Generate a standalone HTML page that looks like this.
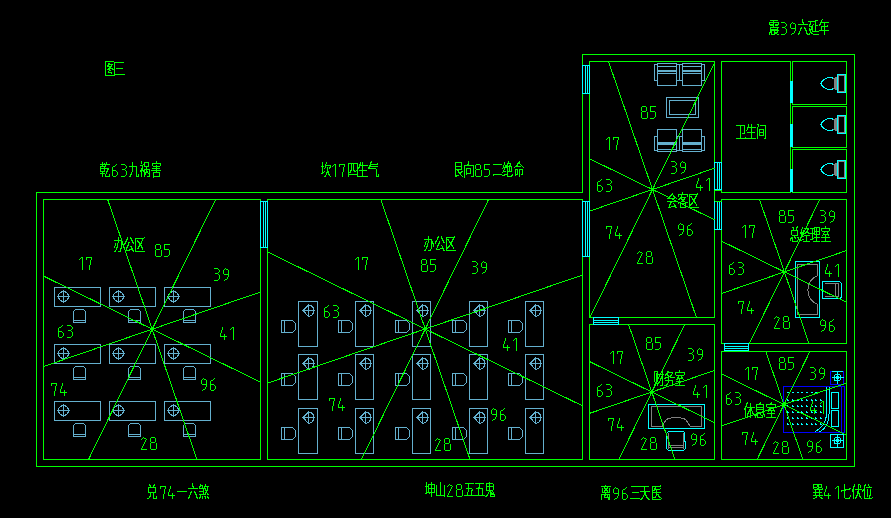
<!DOCTYPE html>
<html><head><meta charset="utf-8"><style>
html,body{margin:0;padding:0;background:#000;width:891px;height:518px;overflow:hidden;font-family:"Liberation Sans",sans-serif;}
svg{display:block;}
</style></head><body>
<svg width="891" height="518" viewBox="0 0 891 518">
<rect width="891" height="518" fill="#000"/>
<g shape-rendering="crispEdges" fill="none" stroke-width="1"><path d="M36.5 192.5 L582.5 192.5 L582.5 54.5 L854.5 54.5 L854.5 466.5 L36.5 466.5Z" stroke="#00ff00"/><rect x="43.5" y="199.5" width="217" height="260" stroke="#00ff00" fill="none"/><rect x="267.5" y="199.5" width="315" height="260" stroke="#00ff00" fill="none"/><rect x="589.5" y="61.5" width="125" height="256" stroke="#00ff00" fill="none"/><rect x="589.5" y="324.5" width="125" height="135" stroke="#00ff00" fill="none"/><rect x="721.5" y="61.5" width="69" height="131" stroke="#00ff00" fill="none"/><rect x="721.5" y="199.5" width="125" height="144" stroke="#00ff00" fill="none"/><rect x="721.5" y="351.5" width="125" height="108" stroke="#00ff00" fill="none"/><rect x="792.5" y="61.5" width="54" height="43" stroke="#00ff00" fill="none"/><rect x="792.5" y="106.5" width="54" height="41" stroke="#00ff00" fill="none"/><rect x="792.5" y="149.5" width="54" height="43" stroke="#00ff00" fill="none"/><rect x="260.5" y="201.5" width="7" height="46" stroke="#00ffff" fill="#000"/><path d="M263.5 201.5V247.5M265.5 201.5V247.5" stroke="#00ffff"/><rect x="582.5" y="65.5" width="7" height="28" stroke="#00ffff" fill="#000"/><path d="M585.5 65.5V93.5M587.5 65.5V93.5" stroke="#00ffff"/><rect x="582.5" y="201.5" width="7" height="55" stroke="#00ffff" fill="#000"/><path d="M585.5 201.5V256.5M587.5 201.5V256.5" stroke="#00ffff"/><rect x="714.5" y="162.5" width="7" height="27" stroke="#00ffff" fill="#000"/><path d="M717.5 162.5V189.5M719.5 162.5V189.5" stroke="#00ffff"/><rect x="714.5" y="201.5" width="7" height="28" stroke="#00ffff" fill="#000"/><path d="M717.5 201.5V229.5M719.5 201.5V229.5" stroke="#00ffff"/><rect x="593.5" y="317.5" width="25" height="7" stroke="#00ffff" fill="#000"/><path d="M593.5 320.5H618.5M593.5 322.5H618.5" stroke="#00ffff"/><rect x="724.5" y="343.5" width="24" height="7" stroke="#00ffff" fill="#000"/><path d="M724.5 346.5H748.5M724.5 348.5H748.5" stroke="#00ffff"/><path d="M714.5 190.5L721.5 190.5" stroke="#00ff00"/><path d="M714.5 201.5L721.5 201.5" stroke="#00ff00"/><rect x="790" y="81" width="3" height="22" fill="#00ffff" stroke="none"/><rect x="790" y="124" width="3" height="23" fill="#00ffff" stroke="none"/><rect x="790" y="169" width="3" height="23" fill="#00ffff" stroke="none"/><rect x="54.5" y="287.5" width="46" height="19" stroke="#64b0ce" fill="none"/><circle cx="63.5" cy="296.5" r="5" stroke="#64b0ce"/><path d="M57.0 296.5H70.0M63.5 290.0V303.0" stroke="#64b0ce"/><path d="M73.5 320.5V311.5L75.5 309.5H83.5L85.5 311.5V320.5" stroke="#64b0ce"/><rect x="73.5" y="320.5" width="12" height="2" rx="1" stroke="#64b0ce"/><rect x="109.5" y="287.5" width="46" height="19" stroke="#64b0ce" fill="none"/><circle cx="118.5" cy="296.5" r="5" stroke="#64b0ce"/><path d="M112.0 296.5H125.0M118.5 290.0V303.0" stroke="#64b0ce"/><path d="M128.5 320.5V311.5L130.5 309.5H138.5L140.5 311.5V320.5" stroke="#64b0ce"/><rect x="128.5" y="320.5" width="12" height="2" rx="1" stroke="#64b0ce"/><rect x="164.5" y="287.5" width="46" height="19" stroke="#64b0ce" fill="none"/><circle cx="173.5" cy="296.5" r="5" stroke="#64b0ce"/><path d="M167.0 296.5H180.0M173.5 290.0V303.0" stroke="#64b0ce"/><path d="M183.5 320.5V311.5L185.5 309.5H193.5L195.5 311.5V320.5" stroke="#64b0ce"/><rect x="183.5" y="320.5" width="12" height="2" rx="1" stroke="#64b0ce"/><rect x="54.5" y="344.5" width="46" height="19" stroke="#64b0ce" fill="none"/><circle cx="63.5" cy="353.5" r="5" stroke="#64b0ce"/><path d="M57.0 353.5H70.0M63.5 347.0V360.0" stroke="#64b0ce"/><path d="M73.5 377.5V368.5L75.5 366.5H83.5L85.5 368.5V377.5" stroke="#64b0ce"/><rect x="73.5" y="377.5" width="12" height="2" rx="1" stroke="#64b0ce"/><rect x="109.5" y="344.5" width="46" height="19" stroke="#64b0ce" fill="none"/><circle cx="118.5" cy="353.5" r="5" stroke="#64b0ce"/><path d="M112.0 353.5H125.0M118.5 347.0V360.0" stroke="#64b0ce"/><path d="M128.5 377.5V368.5L130.5 366.5H138.5L140.5 368.5V377.5" stroke="#64b0ce"/><rect x="128.5" y="377.5" width="12" height="2" rx="1" stroke="#64b0ce"/><rect x="164.5" y="344.5" width="46" height="19" stroke="#64b0ce" fill="none"/><circle cx="173.5" cy="353.5" r="5" stroke="#64b0ce"/><path d="M167.0 353.5H180.0M173.5 347.0V360.0" stroke="#64b0ce"/><path d="M183.5 377.5V368.5L185.5 366.5H193.5L195.5 368.5V377.5" stroke="#64b0ce"/><rect x="183.5" y="377.5" width="12" height="2" rx="1" stroke="#64b0ce"/><rect x="54.5" y="401.5" width="46" height="19" stroke="#64b0ce" fill="none"/><circle cx="63.5" cy="410.5" r="5" stroke="#64b0ce"/><path d="M57.0 410.5H70.0M63.5 404.0V417.0" stroke="#64b0ce"/><path d="M73.5 434.5V425.5L75.5 423.5H83.5L85.5 425.5V434.5" stroke="#64b0ce"/><rect x="73.5" y="434.5" width="12" height="2" rx="1" stroke="#64b0ce"/><rect x="109.5" y="401.5" width="46" height="19" stroke="#64b0ce" fill="none"/><circle cx="118.5" cy="410.5" r="5" stroke="#64b0ce"/><path d="M112.0 410.5H125.0M118.5 404.0V417.0" stroke="#64b0ce"/><path d="M128.5 434.5V425.5L130.5 423.5H138.5L140.5 425.5V434.5" stroke="#64b0ce"/><rect x="128.5" y="434.5" width="12" height="2" rx="1" stroke="#64b0ce"/><rect x="164.5" y="401.5" width="46" height="19" stroke="#64b0ce" fill="none"/><circle cx="173.5" cy="410.5" r="5" stroke="#64b0ce"/><path d="M167.0 410.5H180.0M173.5 404.0V417.0" stroke="#64b0ce"/><path d="M183.5 434.5V425.5L185.5 423.5H193.5L195.5 425.5V434.5" stroke="#64b0ce"/><rect x="183.5" y="434.5" width="12" height="2" rx="1" stroke="#64b0ce"/><rect x="298.5" y="301.5" width="19" height="45" stroke="#64b0ce" fill="none"/><path d="M303.0 310.5L308.5 305.0Q313.5 305.5 314.0 310.5Q313.5 315.5 308.5 316.5Z" stroke="#64b0ce"/><path d="M302.5 310.5H315.0M308.5 304.5V317.0" stroke="#64b0ce"/><path d="M284.5 320.5H292.5L295.5 323.5V329.5L292.5 332.5H284.5" stroke="#64b0ce"/><rect x="281.5" y="320.5" width="3" height="12" rx="1" stroke="#64b0ce"/><rect x="355.5" y="301.5" width="18" height="45" stroke="#64b0ce" fill="none"/><path d="M360.0 310.5L365.5 305.0Q370.5 305.5 371.0 310.5Q370.5 315.5 365.5 316.5Z" stroke="#64b0ce"/><path d="M359.5 310.5H372.0M365.5 304.5V317.0" stroke="#64b0ce"/><path d="M341.5 320.5H349.5L352.5 323.5V329.5L349.5 332.5H341.5" stroke="#64b0ce"/><rect x="338.5" y="320.5" width="3" height="12" rx="1" stroke="#64b0ce"/><rect x="412.5" y="301.5" width="18" height="45" stroke="#64b0ce" fill="none"/><path d="M417.0 310.5L422.5 305.0Q427.5 305.5 428.0 310.5Q427.5 315.5 422.5 316.5Z" stroke="#64b0ce"/><path d="M416.5 310.5H429.0M422.5 304.5V317.0" stroke="#64b0ce"/><path d="M398.5 320.5H406.5L409.5 323.5V329.5L406.5 332.5H398.5" stroke="#64b0ce"/><rect x="395.5" y="320.5" width="3" height="12" rx="1" stroke="#64b0ce"/><rect x="469.5" y="301.5" width="18" height="45" stroke="#64b0ce" fill="none"/><path d="M474.0 310.5L479.5 305.0Q484.5 305.5 485.0 310.5Q484.5 315.5 479.5 316.5Z" stroke="#64b0ce"/><path d="M473.5 310.5H486.0M479.5 304.5V317.0" stroke="#64b0ce"/><path d="M455.5 320.5H463.5L466.5 323.5V329.5L463.5 332.5H455.5" stroke="#64b0ce"/><rect x="452.5" y="320.5" width="3" height="12" rx="1" stroke="#64b0ce"/><rect x="525.5" y="301.5" width="18" height="45" stroke="#64b0ce" fill="none"/><path d="M530.0 310.5L535.5 305.0Q540.5 305.5 541.0 310.5Q540.5 315.5 535.5 316.5Z" stroke="#64b0ce"/><path d="M529.5 310.5H542.0M535.5 304.5V317.0" stroke="#64b0ce"/><path d="M511.5 320.5H519.5L522.5 323.5V329.5L519.5 332.5H511.5" stroke="#64b0ce"/><rect x="508.5" y="320.5" width="3" height="12" rx="1" stroke="#64b0ce"/><rect x="298.5" y="354.5" width="19" height="45" stroke="#64b0ce" fill="none"/><path d="M303.0 363.5L308.5 358.0Q313.5 358.5 314.0 363.5Q313.5 368.5 308.5 369.5Z" stroke="#64b0ce"/><path d="M302.5 363.5H315.0M308.5 357.5V370.0" stroke="#64b0ce"/><path d="M284.5 373.5H292.5L295.5 376.5V382.5L292.5 385.5H284.5" stroke="#64b0ce"/><rect x="281.5" y="373.5" width="3" height="12" rx="1" stroke="#64b0ce"/><rect x="355.5" y="354.5" width="18" height="45" stroke="#64b0ce" fill="none"/><path d="M360.0 363.5L365.5 358.0Q370.5 358.5 371.0 363.5Q370.5 368.5 365.5 369.5Z" stroke="#64b0ce"/><path d="M359.5 363.5H372.0M365.5 357.5V370.0" stroke="#64b0ce"/><path d="M341.5 373.5H349.5L352.5 376.5V382.5L349.5 385.5H341.5" stroke="#64b0ce"/><rect x="338.5" y="373.5" width="3" height="12" rx="1" stroke="#64b0ce"/><rect x="412.5" y="354.5" width="18" height="45" stroke="#64b0ce" fill="none"/><path d="M417.0 363.5L422.5 358.0Q427.5 358.5 428.0 363.5Q427.5 368.5 422.5 369.5Z" stroke="#64b0ce"/><path d="M416.5 363.5H429.0M422.5 357.5V370.0" stroke="#64b0ce"/><path d="M398.5 373.5H406.5L409.5 376.5V382.5L406.5 385.5H398.5" stroke="#64b0ce"/><rect x="395.5" y="373.5" width="3" height="12" rx="1" stroke="#64b0ce"/><rect x="469.5" y="354.5" width="18" height="45" stroke="#64b0ce" fill="none"/><path d="M474.0 363.5L479.5 358.0Q484.5 358.5 485.0 363.5Q484.5 368.5 479.5 369.5Z" stroke="#64b0ce"/><path d="M473.5 363.5H486.0M479.5 357.5V370.0" stroke="#64b0ce"/><path d="M455.5 373.5H463.5L466.5 376.5V382.5L463.5 385.5H455.5" stroke="#64b0ce"/><rect x="452.5" y="373.5" width="3" height="12" rx="1" stroke="#64b0ce"/><rect x="525.5" y="354.5" width="18" height="45" stroke="#64b0ce" fill="none"/><path d="M530.0 363.5L535.5 358.0Q540.5 358.5 541.0 363.5Q540.5 368.5 535.5 369.5Z" stroke="#64b0ce"/><path d="M529.5 363.5H542.0M535.5 357.5V370.0" stroke="#64b0ce"/><path d="M511.5 373.5H519.5L522.5 376.5V382.5L519.5 385.5H511.5" stroke="#64b0ce"/><rect x="508.5" y="373.5" width="3" height="12" rx="1" stroke="#64b0ce"/><rect x="298.5" y="408.5" width="19" height="45" stroke="#64b0ce" fill="none"/><path d="M303.0 417.5L308.5 412.0Q313.5 412.5 314.0 417.5Q313.5 422.5 308.5 423.5Z" stroke="#64b0ce"/><path d="M302.5 417.5H315.0M308.5 411.5V424.0" stroke="#64b0ce"/><path d="M284.5 427.5H292.5L295.5 430.5V436.5L292.5 439.5H284.5" stroke="#64b0ce"/><rect x="281.5" y="427.5" width="3" height="12" rx="1" stroke="#64b0ce"/><rect x="355.5" y="408.5" width="18" height="45" stroke="#64b0ce" fill="none"/><path d="M360.0 417.5L365.5 412.0Q370.5 412.5 371.0 417.5Q370.5 422.5 365.5 423.5Z" stroke="#64b0ce"/><path d="M359.5 417.5H372.0M365.5 411.5V424.0" stroke="#64b0ce"/><path d="M341.5 427.5H349.5L352.5 430.5V436.5L349.5 439.5H341.5" stroke="#64b0ce"/><rect x="338.5" y="427.5" width="3" height="12" rx="1" stroke="#64b0ce"/><rect x="412.5" y="408.5" width="18" height="45" stroke="#64b0ce" fill="none"/><path d="M417.0 417.5L422.5 412.0Q427.5 412.5 428.0 417.5Q427.5 422.5 422.5 423.5Z" stroke="#64b0ce"/><path d="M416.5 417.5H429.0M422.5 411.5V424.0" stroke="#64b0ce"/><path d="M398.5 427.5H406.5L409.5 430.5V436.5L406.5 439.5H398.5" stroke="#64b0ce"/><rect x="395.5" y="427.5" width="3" height="12" rx="1" stroke="#64b0ce"/><rect x="469.5" y="408.5" width="18" height="45" stroke="#64b0ce" fill="none"/><path d="M474.0 417.5L479.5 412.0Q484.5 412.5 485.0 417.5Q484.5 422.5 479.5 423.5Z" stroke="#64b0ce"/><path d="M473.5 417.5H486.0M479.5 411.5V424.0" stroke="#64b0ce"/><path d="M455.5 427.5H463.5L466.5 430.5V436.5L463.5 439.5H455.5" stroke="#64b0ce"/><rect x="452.5" y="427.5" width="3" height="12" rx="1" stroke="#64b0ce"/><rect x="525.5" y="408.5" width="18" height="45" stroke="#64b0ce" fill="none"/><path d="M530.0 417.5L535.5 412.0Q540.5 412.5 541.0 417.5Q540.5 422.5 535.5 423.5Z" stroke="#64b0ce"/><path d="M529.5 417.5H542.0M535.5 411.5V424.0" stroke="#64b0ce"/><path d="M511.5 427.5H519.5L522.5 430.5V436.5L519.5 439.5H511.5" stroke="#64b0ce"/><rect x="508.5" y="427.5" width="3" height="12" rx="1" stroke="#64b0ce"/><rect x="657.5" y="63.5" width="19" height="22" stroke="#64b0ce" fill="none"/><rect x="654.5" y="64.5" width="3" height="16" stroke="#64b0ce" fill="none"/><rect x="676.5" y="64.5" width="3" height="16" stroke="#64b0ce" fill="none"/><path d="M657.5 66.5H676.5M657.5 70.5H676.5M657.5 71.5H676.5M657.5 73.5H676.5" stroke="#64b0ce"/><rect x="682.5" y="63.5" width="19" height="22" stroke="#64b0ce" fill="none"/><rect x="679.5" y="64.5" width="3" height="16" stroke="#64b0ce" fill="none"/><rect x="701.5" y="64.5" width="3" height="16" stroke="#64b0ce" fill="none"/><path d="M682.5 66.5H701.5M682.5 70.5H701.5M682.5 71.5H701.5M682.5 73.5H701.5" stroke="#64b0ce"/><rect x="657.5" y="129.5" width="19" height="22" stroke="#64b0ce" fill="none"/><rect x="654.5" y="136.5" width="3" height="14" stroke="#64b0ce" fill="none"/><rect x="676.5" y="136.5" width="3" height="14" stroke="#64b0ce" fill="none"/><path d="M657.5 142.5H676.5M657.5 143.5H676.5M657.5 144.5H676.5M657.5 149.5H676.5" stroke="#64b0ce"/><rect x="682.5" y="129.5" width="19" height="22" stroke="#64b0ce" fill="none"/><rect x="679.5" y="136.5" width="3" height="14" stroke="#64b0ce" fill="none"/><rect x="701.5" y="136.5" width="3" height="14" stroke="#64b0ce" fill="none"/><path d="M682.5 142.5H701.5M682.5 143.5H701.5M682.5 144.5H701.5M682.5 149.5H701.5" stroke="#64b0ce"/><rect x="666.5" y="97.5" width="32" height="20" stroke="#64b0ce" fill="none"/><rect x="669.5" y="100.5" width="26" height="14" stroke="#64b0ce" fill="none"/><path d="M834 78.5Q827 75.5 822 81.5Q820 83.5 822 85.5Q827 91.5 834 88.5" stroke="#00ffff"/><path d="M834 78.5L838 76.5V90.5L834 88.5Q836 83.5 834 78.5Z" fill="#808080" stroke="#808080"/><rect x="837.5" y="74.5" width="8" height="18" stroke="#00ffff"/><rect x="838.5" y="75.5" width="6" height="16" stroke="#808080"/><path d="M834 119.5Q827 116.5 822 122.5Q820 124.5 822 126.5Q827 132.5 834 129.5" stroke="#00ffff"/><path d="M834 119.5L838 117.5V131.5L834 129.5Q836 124.5 834 119.5Z" fill="#808080" stroke="#808080"/><rect x="837.5" y="115.5" width="8" height="18" stroke="#00ffff"/><rect x="838.5" y="116.5" width="6" height="16" stroke="#808080"/><path d="M834 164.5Q827 161.5 822 167.5Q820 169.5 822 171.5Q827 177.5 834 174.5" stroke="#00ffff"/><path d="M834 164.5L838 162.5V176.5L834 174.5Q836 169.5 834 164.5Z" fill="#808080" stroke="#808080"/><rect x="837.5" y="160.5" width="8" height="18" stroke="#00ffff"/><rect x="838.5" y="161.5" width="6" height="16" stroke="#808080"/><rect x="795.5" y="261.5" width="24" height="56" stroke="#00ffff" fill="none"/><path d="M797.5 264.5H817.5V275.5A15.7 15.7 0 0 0 817.5 304.5V314.5H797.5Z" stroke="#808080"/><path d="M822.5 281.5H838.5Q841.5 281.5 841.5 284.5V295.5Q841.5 298.5 838.5 298.5H822.5Z" stroke="#00ffff"/><path d="M824.5 283.5H838.5V296.5H824.5M835.5 283.5V296.5" stroke="#808080"/><rect x="648.5" y="404.5" width="56" height="24" stroke="#00ffff" fill="none"/><path d="M651.5 406.5H701.5V426.5H690.5L686 420Q683 417.5 676 417.5Q669 417.5 666 420L662 426.5H651.5Z" stroke="#808080"/><path d="M668.5 431.5H683.5L684.5 432.5V441.5H685.5V448.5L683.5 450.5H668.5L666.5 448.5V433.5Z" stroke="#00ffff"/><path d="M668.5 432.5V448.5M683.5 432.5V448.5M668.5 445.5H683.5M668.5 447.5H683.5" stroke="#808080"/><rect x="783.5" y="386.5" width="61" height="46" stroke="#0000ff" fill="none"/><path d="M841.5 387V432" stroke="#0000ff"/><rect x="830.5" y="371.5" width="13" height="13" stroke="#0000ff" fill="none"/><path d="M831.5 371.5L842.5 371.5" stroke="#00ffff"/><rect x="830.5" y="434.5" width="13" height="13" stroke="#00ffff" fill="none"/><circle cx="837.5" cy="377.5" r="3.5" stroke="#00ffff"/><circle cx="837.5" cy="377.5" r="1.6" fill="#00ffff" stroke="none"/><path d="M831.5 377.5H843.5M837.5 371.5V383.5" stroke="#00ffff"/><circle cx="837.5" cy="440.5" r="3.5" stroke="#00ffff"/><circle cx="837.5" cy="440.5" r="1.6" fill="#00ffff" stroke="none"/><path d="M831.5 440.5H843.5M837.5 434.5V446.5" stroke="#00ffff"/><path d="M826.5 386.5V414Q826.5 425 815 432M829 386.5V414Q829 427 819.5 432" stroke="#00ffff"/><rect x="831.5" y="392.5" width="7" height="16" stroke="#00ffff"/><rect x="831.5" y="410.5" width="7" height="16" stroke="#00ffff"/><path d="M787 392h2v1h-2zM792 392h2v1h-2zM797 392h2v1h-2zM801 392h2v1h-2zM806 392h2v1h-2zM811 392h2v1h-2zM815 392h2v1h-2zM787 399h1v1h1v1h-2zM792 399h1v1h1v1h-2zM797 399h1v1h1v1h-2zM801 399h1v1h1v1h-2zM806 399h1v1h1v1h-2zM811 399h1v1h1v1h-2zM815 399h1v1h1v1h-2zM820 399h1v1h1v1h-2zM787 405h1v1h1v1h-2zM792 405h1v1h1v1h-2zM797 405h1v1h1v1h-2zM801 405h1v1h1v1h-2zM806 405h1v1h1v1h-2zM811 405h1v1h1v1h-2zM815 405h1v1h1v1h-2zM820 405h1v1h1v1h-2zM787 411h1v1h1v1h-2zM792 411h1v1h1v1h-2zM797 411h1v1h1v1h-2zM801 411h1v1h1v1h-2zM806 411h1v1h1v1h-2zM811 411h1v1h1v1h-2zM815 411h1v1h1v1h-2zM820 411h1v1h1v1h-2zM787 417h1v1h1v1h-2zM792 417h1v1h1v1h-2zM797 417h1v1h1v1h-2zM801 417h1v1h1v1h-2zM806 417h1v1h1v1h-2zM811 417h1v1h1v1h-2zM815 417h1v1h1v1h-2zM820 417h1v1h1v1h-2zM787 423h1v1h1v1h-2zM792 423h1v1h1v1h-2zM797 423h1v1h1v1h-2zM801 423h1v1h1v1h-2zM806 423h1v1h1v1h-2zM811 423h1v1h1v1h-2zM815 423h1v1h1v1h-2zM820 423h1v1h1v1h-2z" fill="#00ffff" stroke="none"/><path d="M260.50 292.02L43.50 366.52" stroke="#00ff00"/><path d="M260.50 382.14L43.50 276.07" stroke="#00ff00"/><path d="M196.94 459.50L107.67 199.50" stroke="#00ff00"/><path d="M88.51 459.50L215.60 199.50" stroke="#00ff00"/><path d="M582.50 275.01L267.50 383.16" stroke="#00ff00"/><path d="M582.50 405.87L267.50 251.89" stroke="#00ff00"/><path d="M470.06 459.50L380.79 199.50" stroke="#00ff00"/><path d="M361.46 459.50L488.55 199.50" stroke="#00ff00"/><path d="M714.50 168.21L589.50 211.13" stroke="#00ff00"/><path d="M714.50 219.81L589.50 158.70" stroke="#00ff00"/><path d="M696.45 317.50L608.55 61.50" stroke="#00ff00"/><path d="M589.93 317.50L714.50 62.66" stroke="#00ff00"/><path d="M846.50 250.58L721.50 293.50" stroke="#00ff00"/><path d="M846.50 302.26L721.50 241.15" stroke="#00ff00"/><path d="M808.98 343.50L759.54 199.50" stroke="#00ff00"/><path d="M749.40 343.50L819.79 199.50" stroke="#00ff00"/><path d="M714.50 370.47L589.50 413.39" stroke="#00ff00"/><path d="M714.50 422.65L589.50 361.55" stroke="#00ff00"/><path d="M674.98 459.50L628.62 324.50" stroke="#00ff00"/><path d="M618.81 459.50L684.79 324.50" stroke="#00ff00"/><path d="M846.50 383.04L721.50 425.96" stroke="#00ff00"/><path d="M846.50 435.05L721.50 373.95" stroke="#00ff00"/><path d="M802.88 459.50L765.80 351.50" stroke="#00ff00"/><path d="M757.12 459.50L809.91 351.50" stroke="#00ff00"/></g>
<defs><symbol id="d1" overflow="visible"><path d="M3 0h2v1h-2zM2 1h1v1h-1zM4 1h1v1h-1zM1 2h1v1h-1zM4 2h1v1h-1zM4 3h1v1h-1zM4 4h1v1h-1zM4 5h1v1h-1zM4 6h1v1h-1zM4 7h1v1h-1zM4 8h1v1h-1zM4 9h1v1h-1zM4 10h1v1h-1zM4 11h1v1h-1zM4 12h1v1h-1z"/></symbol><symbol id="d2" overflow="visible"><path d="M2 0h1v1h-1zM1 1h1v1h-1zM3 1h2v1h-2zM0 2h1v1h-1zM5 2h1v1h-1zM4 3h1v1h-1zM4 4h1v1h-1zM3 5h1v1h-1zM3 6h1v1h-1zM2 7h1v1h-1zM2 8h1v1h-1zM1 9h1v1h-1zM1 10h1v1h-1zM0 11h1v1h-1zM0 12h6v1h-6z"/></symbol><symbol id="d3" overflow="visible"><path d="M0 0h4v1h-4zM4 1h1v1h-1zM5 2h1v1h-1zM5 3h1v1h-1zM4 4h1v1h-1zM1 5h3v1h-3zM4 6h1v1h-1zM5 7h1v1h-1zM5 8h1v1h-1zM5 9h1v1h-1zM5 10h1v1h-1zM4 11h1v1h-1zM0 12h4v1h-4z"/></symbol><symbol id="d4" overflow="visible"><path d="M2 0h1v1h-1zM2 1h1v1h-1zM2 2h1v1h-1zM1 3h1v1h-1zM1 4h1v1h-1zM1 5h1v1h-1zM0 6h1v1h-1zM0 7h1v1h-1zM4 7h1v1h-1zM0 8h1v1h-1zM4 8h1v1h-1zM0 9h7v1h-7zM4 10h1v1h-1zM4 11h1v1h-1zM4 12h1v1h-1z"/></symbol><symbol id="d5" overflow="visible"><path d="M0 0h6v1h-6zM0 1h1v1h-1zM0 2h1v1h-1zM0 3h1v1h-1zM0 4h1v1h-1zM0 5h5v1h-5zM5 6h1v1h-1zM5 7h1v1h-1zM5 8h1v1h-1zM5 9h1v1h-1zM5 10h1v1h-1zM4 11h1v1h-1zM0 12h4v1h-4z"/></symbol><symbol id="d6" overflow="visible"><path d="M4 0h1v1h-1zM3 1h1v1h-1zM1 2h2v1h-2zM0 3h1v1h-1zM0 4h1v1h-1zM0 5h1v1h-1zM0 6h4v1h-4zM0 7h1v1h-1zM4 7h1v1h-1zM0 8h1v1h-1zM5 8h1v1h-1zM0 9h1v1h-1zM5 9h1v1h-1zM0 10h1v1h-1zM5 10h1v1h-1zM0 11h1v1h-1zM4 11h1v1h-1zM1 12h3v1h-3z"/></symbol><symbol id="d7" overflow="visible"><path d="M0 0h6v1h-6zM0 1h1v1h-1zM5 1h1v1h-1zM0 2h1v1h-1zM5 2h1v1h-1zM4 3h1v1h-1zM4 4h1v1h-1zM4 5h1v1h-1zM4 6h1v1h-1zM4 7h1v1h-1zM3 8h1v1h-1zM3 9h1v1h-1zM3 10h1v1h-1zM3 11h1v1h-1zM3 12h1v1h-1z"/></symbol><symbol id="d8" overflow="visible"><path d="M1 0h4v1h-4zM0 1h1v1h-1zM5 1h1v1h-1zM0 2h1v1h-1zM5 2h1v1h-1zM0 3h1v1h-1zM5 3h1v1h-1zM0 4h1v1h-1zM5 4h1v1h-1zM1 5h4v1h-4zM0 6h1v1h-1zM6 6h1v1h-1zM0 7h1v1h-1zM6 7h1v1h-1zM0 8h1v1h-1zM6 8h1v1h-1zM0 9h1v1h-1zM6 9h1v1h-1zM0 10h1v1h-1zM6 10h1v1h-1zM0 11h1v1h-1zM6 11h1v1h-1zM1 12h5v1h-5z"/></symbol><symbol id="d9" overflow="visible"><path d="M2 0h1v1h-1zM1 1h1v1h-1zM3 1h2v1h-2zM0 2h1v1h-1zM5 2h1v1h-1zM0 3h1v1h-1zM5 3h1v1h-1zM0 4h1v1h-1zM5 4h1v1h-1zM0 5h1v1h-1zM5 5h1v1h-1zM1 6h5v1h-5zM5 7h1v1h-1zM5 8h1v1h-1zM4 9h1v1h-1zM4 10h1v1h-1zM2 11h2v1h-2zM1 12h1v1h-1z"/></symbol></defs><g fill="#00ff00" shape-rendering="crispEdges"><use href="#d6" x="112" y="164"/><use href="#d3" x="121" y="164"/><use href="#d1" x="331" y="164"/><use href="#d7" x="339" y="164"/><use href="#d8" x="475" y="164"/><use href="#d5" x="484" y="164"/><use href="#d3" x="781" y="22"/><use href="#d9" x="790" y="22"/><use href="#d7" x="160" y="486"/><use href="#d4" x="168" y="486"/><use href="#d2" x="447" y="484"/><use href="#d8" x="456" y="484"/><use href="#d9" x="613" y="487"/><use href="#d6" x="622" y="487"/><use href="#d4" x="824" y="486"/><use href="#d1" x="834" y="486"/><use href="#d1" x="78" y="257"/><use href="#d7" x="86" y="257"/><use href="#d8" x="155" y="244"/><use href="#d5" x="164" y="244"/><use href="#d3" x="214" y="268"/><use href="#d9" x="223" y="268"/><use href="#d6" x="58" y="325"/><use href="#d3" x="67" y="325"/><use href="#d4" x="220" y="327"/><use href="#d1" x="229" y="327"/><use href="#d7" x="51" y="383"/><use href="#d4" x="60" y="383"/><use href="#d9" x="201" y="378"/><use href="#d6" x="210" y="378"/><use href="#d2" x="141" y="437"/><use href="#d8" x="150" y="437"/><use href="#d1" x="354" y="257"/><use href="#d7" x="362" y="257"/><use href="#d8" x="421" y="259"/><use href="#d5" x="430" y="259"/><use href="#d3" x="472" y="261"/><use href="#d9" x="481" y="261"/><use href="#d6" x="324" y="305"/><use href="#d3" x="333" y="305"/><use href="#d7" x="329" y="398"/><use href="#d4" x="338" y="398"/><use href="#d4" x="503" y="338"/><use href="#d1" x="512" y="338"/><use href="#d9" x="491" y="408"/><use href="#d6" x="500" y="408"/><use href="#d2" x="435" y="438"/><use href="#d8" x="444" y="438"/><use href="#d8" x="641" y="106"/><use href="#d5" x="650" y="106"/><use href="#d1" x="605" y="137"/><use href="#d7" x="613" y="137"/><use href="#d3" x="671" y="161"/><use href="#d9" x="680" y="161"/><use href="#d6" x="597" y="179"/><use href="#d3" x="606" y="179"/><use href="#d4" x="696" y="178"/><use href="#d1" x="705" y="178"/><use href="#d7" x="606" y="226"/><use href="#d4" x="615" y="226"/><use href="#d9" x="678" y="223"/><use href="#d6" x="687" y="223"/><use href="#d2" x="637" y="251"/><use href="#d8" x="646" y="251"/><use href="#d8" x="779" y="210"/><use href="#d5" x="788" y="210"/><use href="#d3" x="820" y="210"/><use href="#d9" x="829" y="210"/><use href="#d1" x="741" y="225"/><use href="#d7" x="749" y="225"/><use href="#d6" x="729" y="262"/><use href="#d3" x="738" y="262"/><use href="#d4" x="825" y="264"/><use href="#d1" x="834" y="264"/><use href="#d7" x="738" y="301"/><use href="#d4" x="747" y="301"/><use href="#d2" x="774" y="316"/><use href="#d8" x="783" y="316"/><use href="#d9" x="820" y="319"/><use href="#d6" x="829" y="319"/><use href="#d8" x="646" y="337"/><use href="#d5" x="655" y="337"/><use href="#d1" x="609" y="351"/><use href="#d7" x="617" y="351"/><use href="#d3" x="688" y="348"/><use href="#d9" x="697" y="348"/><use href="#d6" x="597" y="384"/><use href="#d3" x="606" y="384"/><use href="#d4" x="693" y="385"/><use href="#d1" x="702" y="385"/><use href="#d7" x="608" y="418"/><use href="#d4" x="617" y="418"/><use href="#d2" x="641" y="437"/><use href="#d8" x="650" y="437"/><use href="#d9" x="691" y="433"/><use href="#d6" x="700" y="433"/><use href="#d8" x="779" y="357"/><use href="#d5" x="788" y="357"/><use href="#d1" x="744" y="367"/><use href="#d7" x="752" y="367"/><use href="#d3" x="810" y="367"/><use href="#d9" x="819" y="367"/><use href="#d6" x="726" y="392"/><use href="#d3" x="735" y="392"/><use href="#d4" x="810" y="401"/><use href="#d1" x="819" y="401"/><use href="#d7" x="742" y="432"/><use href="#d4" x="751" y="432"/><use href="#d2" x="773" y="441"/><use href="#d8" x="782" y="441"/><use href="#d9" x="807" y="440"/><use href="#d6" x="816" y="440"/></g>
<path fill="#00ff00" shape-rendering="crispEdges" d="M105 61h9v1h-9zM105 62h1v1h-1zM114 62h1v1h-1zM105 63h1v1h-1zM108 63h2v1h-2zM114 63h1v1h-1zM105 64h1v1h-1zM108 64h5v1h-5zM114 64h1v1h-1zM105 65h1v1h-1zM107 65h2v1h-2zM111 65h1v1h-1zM114 65h1v1h-1zM105 66h1v1h-1zM107 66h5v1h-5zM114 66h1v1h-1zM105 67h1v1h-1zM109 67h2v1h-2zM114 67h1v1h-1zM105 68h1v1h-1zM108 68h5v1h-5zM114 68h1v1h-1zM105 69h1v1h-1zM107 69h3v1h-3zM112 69h3v1h-3zM105 70h1v1h-1zM109 70h2v1h-2zM114 70h1v1h-1zM105 71h1v1h-1zM108 71h1v1h-1zM114 71h1v1h-1zM105 72h1v1h-1zM108 72h4v1h-4zM114 72h1v1h-1zM105 73h1v1h-1zM111 73h1v1h-1zM114 73h1v1h-1zM105 74h1v1h-1zM114 74h1v1h-1zM105 75h10v1h-10zM115 62h9v1h-9zM116 68h7v1h-7zM115 74h10v1h-10zM102 162h1v1h-1zM106 162h1v1h-1zM102 163h1v1h-1zM104 163h1v1h-1zM106 163h1v1h-1zM100 164h10v1h-10zM102 165h1v1h-1zM105 165h1v1h-1zM100 166h6v1h-6zM100 167h1v1h-1zM104 167h1v1h-1zM100 168h9v1h-9zM100 169h1v1h-1zM104 169h1v1h-1zM107 169h2v1h-2zM100 170h1v1h-1zM104 170h1v1h-1zM107 170h1v1h-1zM100 171h5v1h-5zM106 171h2v1h-2zM102 172h1v1h-1zM106 172h1v1h-1zM100 173h5v1h-5zM106 173h1v1h-1zM102 174h1v1h-1zM105 174h1v1h-1zM109 174h1v1h-1zM102 175h1v1h-1zM105 175h1v1h-1zM109 175h1v1h-1zM102 176h1v1h-1zM105 176h5v1h-5zM132 162h1v1h-1zM132 163h1v1h-1zM132 164h1v1h-1zM132 165h1v1h-1zM129 166h8v1h-8zM132 167h1v1h-1zM136 167h1v1h-1zM132 168h1v1h-1zM136 168h1v1h-1zM132 169h1v1h-1zM136 169h1v1h-1zM132 170h1v1h-1zM136 170h1v1h-1zM132 171h1v1h-1zM136 171h1v1h-1zM131 172h1v1h-1zM136 172h1v1h-1zM131 173h1v1h-1zM136 173h1v1h-1zM130 174h2v1h-2zM136 174h1v1h-1zM138 174h1v1h-1zM130 175h1v1h-1zM136 175h1v1h-1zM138 175h1v1h-1zM129 176h2v1h-2zM136 176h3v1h-3zM141 161h1v1h-1zM141 162h1v1h-1zM144 162h5v1h-5zM141 163h1v1h-1zM144 163h1v1h-1zM148 163h1v1h-1zM143 164h2v1h-2zM148 164h1v1h-1zM140 165h3v1h-3zM144 165h1v1h-1zM148 165h1v1h-1zM142 166h1v1h-1zM144 166h5v1h-5zM142 167h1v1h-1zM146 167h1v1h-1zM141 168h2v1h-2zM146 168h1v1h-1zM141 169h2v1h-2zM144 169h6v1h-6zM140 170h5v1h-5zM146 170h1v1h-1zM149 170h1v1h-1zM140 171h2v1h-2zM143 171h2v1h-2zM146 171h2v1h-2zM149 171h1v1h-1zM141 172h1v1h-1zM144 172h4v1h-4zM149 172h1v1h-1zM141 173h1v1h-1zM144 173h2v1h-2zM148 173h2v1h-2zM141 174h1v1h-1zM144 174h2v1h-2zM149 174h1v1h-1zM141 175h1v1h-1zM144 175h1v1h-1zM149 175h1v1h-1zM141 176h1v1h-1zM144 176h1v1h-1zM147 176h3v1h-3zM156 161h1v1h-1zM156 162h1v1h-1zM152 163h9v1h-9zM152 164h1v1h-1zM160 164h1v1h-1zM152 165h1v1h-1zM156 165h1v1h-1zM160 165h1v1h-1zM153 166h7v1h-7zM156 167h1v1h-1zM152 168h8v1h-8zM156 169h1v1h-1zM151 170h10v1h-10zM156 171h1v1h-1zM153 172h7v1h-7zM153 173h1v1h-1zM159 173h1v1h-1zM153 174h1v1h-1zM159 174h1v1h-1zM153 175h1v1h-1zM159 175h1v1h-1zM153 176h7v1h-7zM153 177h1v1h-1zM322 162h1v1h-1zM326 162h1v1h-1zM322 163h1v1h-1zM326 163h1v1h-1zM322 164h1v1h-1zM325 164h1v1h-1zM322 165h1v1h-1zM325 165h6v1h-6zM321 166h3v1h-3zM325 166h1v1h-1zM330 166h1v1h-1zM322 167h1v1h-1zM325 167h1v1h-1zM327 167h1v1h-1zM329 167h2v1h-2zM322 168h1v1h-1zM324 168h1v1h-1zM327 168h1v1h-1zM329 168h1v1h-1zM322 169h1v1h-1zM327 169h1v1h-1zM322 170h1v1h-1zM327 170h1v1h-1zM322 171h1v1h-1zM324 171h1v1h-1zM327 171h2v1h-2zM322 172h2v1h-2zM326 172h3v1h-3zM321 173h2v1h-2zM326 173h1v1h-1zM328 173h1v1h-1zM326 174h1v1h-1zM328 174h2v1h-2zM325 175h1v1h-1zM329 175h1v1h-1zM324 176h2v1h-2zM330 176h1v1h-1zM348 163h10v1h-10zM348 164h1v1h-1zM351 164h1v1h-1zM353 164h1v1h-1zM357 164h1v1h-1zM348 165h1v1h-1zM351 165h1v1h-1zM353 165h1v1h-1zM357 165h1v1h-1zM348 166h1v1h-1zM351 166h1v1h-1zM353 166h1v1h-1zM357 166h1v1h-1zM348 167h1v1h-1zM351 167h1v1h-1zM353 167h1v1h-1zM357 167h1v1h-1zM348 168h1v1h-1zM351 168h1v1h-1zM353 168h1v1h-1zM357 168h1v1h-1zM348 169h1v1h-1zM351 169h1v1h-1zM353 169h1v1h-1zM357 169h1v1h-1zM348 170h1v1h-1zM350 170h2v1h-2zM353 170h2v1h-2zM356 170h2v1h-2zM348 171h1v1h-1zM350 171h1v1h-1zM354 171h2v1h-2zM357 171h1v1h-1zM348 172h3v1h-3zM357 172h1v1h-1zM348 173h1v1h-1zM357 173h1v1h-1zM348 174h10v1h-10zM348 175h1v1h-1zM357 175h1v1h-1zM348 176h1v1h-1zM357 176h1v1h-1zM360 162h1v1h-1zM362 162h1v1h-1zM360 163h1v1h-1zM362 163h1v1h-1zM359 164h2v1h-2zM362 164h1v1h-1zM359 165h9v1h-9zM359 166h1v1h-1zM362 166h1v1h-1zM358 167h2v1h-2zM362 167h1v1h-1zM358 168h1v1h-1zM362 168h1v1h-1zM362 169h1v1h-1zM359 170h8v1h-8zM362 171h1v1h-1zM362 172h1v1h-1zM362 173h1v1h-1zM362 174h1v1h-1zM362 175h1v1h-1zM358 176h10v1h-10zM371 161h1v1h-1zM370 162h2v1h-2zM370 163h1v1h-1zM377 163h1v1h-1zM370 164h8v1h-8zM369 165h2v1h-2zM369 166h9v1h-9zM368 167h2v1h-2zM368 168h8v1h-8zM376 169h1v1h-1zM376 170h1v1h-1zM376 171h1v1h-1zM376 172h1v1h-1zM376 173h1v1h-1zM376 174h1v1h-1zM378 174h1v1h-1zM376 175h1v1h-1zM378 175h1v1h-1zM376 176h3v1h-3zM455 162h7v1h-7zM455 163h1v1h-1zM461 163h1v1h-1zM455 164h1v1h-1zM461 164h1v1h-1zM455 165h1v1h-1zM461 165h1v1h-1zM455 166h7v1h-7zM455 167h1v1h-1zM461 167h1v1h-1zM455 168h1v1h-1zM461 168h1v1h-1zM455 169h7v1h-7zM455 170h1v1h-1zM457 170h2v1h-2zM455 171h1v1h-1zM458 171h1v1h-1zM461 171h2v1h-2zM455 172h1v1h-1zM458 172h4v1h-4zM455 173h1v1h-1zM459 173h2v1h-2zM455 174h1v1h-1zM460 174h1v1h-1zM455 175h4v1h-4zM461 175h1v1h-1zM455 176h2v1h-2zM462 176h1v1h-1zM468 161h1v1h-1zM468 162h1v1h-1zM468 163h1v1h-1zM467 164h2v1h-2zM464 165h10v1h-10zM464 166h1v1h-1zM473 166h1v1h-1zM464 167h1v1h-1zM473 167h1v1h-1zM464 168h1v1h-1zM466 168h5v1h-5zM473 168h1v1h-1zM464 169h1v1h-1zM466 169h1v1h-1zM470 169h1v1h-1zM473 169h1v1h-1zM464 170h1v1h-1zM466 170h1v1h-1zM470 170h1v1h-1zM473 170h1v1h-1zM464 171h1v1h-1zM466 171h1v1h-1zM470 171h1v1h-1zM473 171h1v1h-1zM464 172h1v1h-1zM466 172h1v1h-1zM470 172h1v1h-1zM473 172h1v1h-1zM464 173h1v1h-1zM466 173h5v1h-5zM473 173h1v1h-1zM464 174h1v1h-1zM466 174h1v1h-1zM473 174h1v1h-1zM464 175h1v1h-1zM473 175h1v1h-1zM464 176h1v1h-1zM471 176h3v1h-3zM464 177h1v1h-1zM493 164h9v1h-9zM493 174h9v1h-9zM493 175h1v1h-1zM508 161h1v1h-1zM504 162h1v1h-1zM508 162h1v1h-1zM504 163h1v1h-1zM507 163h4v1h-4zM504 164h1v1h-1zM507 164h1v1h-1zM510 164h1v1h-1zM503 165h1v1h-1zM505 165h3v1h-3zM509 165h2v1h-2zM503 166h1v1h-1zM505 166h7v1h-7zM503 167h5v1h-5zM509 167h1v1h-1zM511 167h1v1h-1zM502 168h1v1h-1zM504 168h1v1h-1zM507 168h1v1h-1zM509 168h1v1h-1zM511 168h1v1h-1zM504 169h1v1h-1zM507 169h1v1h-1zM509 169h1v1h-1zM511 169h1v1h-1zM503 170h1v1h-1zM507 170h1v1h-1zM509 170h1v1h-1zM511 170h1v1h-1zM503 171h3v1h-3zM507 171h5v1h-5zM502 172h1v1h-1zM507 172h1v1h-1zM507 173h1v1h-1zM504 174h4v1h-4zM512 174h1v1h-1zM502 175h3v1h-3zM507 175h1v1h-1zM511 175h2v1h-2zM507 176h5v1h-5zM519 161h1v1h-1zM518 162h2v1h-2zM517 163h3v1h-3zM517 164h1v1h-1zM520 164h1v1h-1zM516 165h2v1h-2zM521 165h1v1h-1zM515 166h6v1h-6zM522 166h1v1h-1zM514 167h1v1h-1zM523 167h1v1h-1zM515 169h3v1h-3zM519 169h4v1h-4zM515 170h1v1h-1zM517 170h1v1h-1zM519 170h1v1h-1zM522 170h1v1h-1zM515 171h1v1h-1zM517 171h1v1h-1zM519 171h1v1h-1zM522 171h1v1h-1zM515 172h1v1h-1zM517 172h1v1h-1zM519 172h1v1h-1zM522 172h1v1h-1zM515 173h1v1h-1zM517 173h1v1h-1zM519 173h1v1h-1zM522 173h1v1h-1zM515 174h3v1h-3zM519 174h1v1h-1zM521 174h2v1h-2zM515 175h1v1h-1zM519 175h1v1h-1zM519 176h1v1h-1zM770 20h8v1h-8zM773 21h1v1h-1zM769 22h10v1h-10zM769 23h1v1h-1zM773 23h1v1h-1zM778 23h1v1h-1zM769 24h5v1h-5zM775 24h4v1h-4zM770 25h4v1h-4zM775 25h3v1h-3zM773 26h1v1h-1zM770 27h9v1h-9zM770 28h1v1h-1zM777 28h1v1h-1zM770 29h8v1h-8zM770 30h9v1h-9zM770 31h2v1h-2zM774 31h1v1h-1zM777 31h1v1h-1zM769 32h3v1h-3zM774 32h4v1h-4zM769 33h1v1h-1zM771 33h1v1h-1zM774 33h3v1h-3zM769 34h1v1h-1zM771 34h4v1h-4zM777 34h2v1h-2zM802 19h1v1h-1zM802 20h1v1h-1zM802 21h1v1h-1zM802 22h2v1h-2zM803 23h1v1h-1zM798 24h10v1h-10zM801 27h1v1h-1zM804 27h1v1h-1zM800 28h2v1h-2zM804 28h2v1h-2zM800 29h1v1h-1zM805 29h1v1h-1zM800 30h1v1h-1zM805 30h2v1h-2zM799 31h1v1h-1zM806 31h1v1h-1zM799 32h1v1h-1zM806 32h1v1h-1zM798 33h2v1h-2zM806 33h2v1h-2zM798 34h1v1h-1zM807 34h1v1h-1zM815 20h3v1h-3zM808 21h8v1h-8zM810 22h1v1h-1zM815 22h1v1h-1zM810 23h1v1h-1zM815 23h1v1h-1zM809 24h2v1h-2zM813 24h1v1h-1zM815 24h1v1h-1zM809 25h1v1h-1zM812 25h1v1h-1zM815 25h3v1h-3zM809 26h4v1h-4zM815 26h1v1h-1zM811 27h2v1h-2zM815 27h1v1h-1zM809 28h1v1h-1zM811 28h2v1h-2zM815 28h1v1h-1zM809 29h4v1h-4zM815 29h1v1h-1zM809 30h2v1h-2zM812 30h1v1h-1zM815 30h1v1h-1zM810 31h1v1h-1zM812 31h7v1h-7zM810 32h2v1h-2zM809 33h1v1h-1zM811 33h2v1h-2zM808 34h2v1h-2zM813 34h6v1h-6zM822 19h1v1h-1zM821 20h1v1h-1zM821 21h1v1h-1zM820 22h9v1h-9zM820 23h1v1h-1zM824 23h1v1h-1zM819 24h2v1h-2zM824 24h1v1h-1zM819 25h1v1h-1zM824 25h1v1h-1zM827 25h1v1h-1zM821 26h7v1h-7zM821 27h1v1h-1zM824 27h1v1h-1zM821 28h1v1h-1zM824 28h1v1h-1zM821 29h1v1h-1zM824 29h1v1h-1zM819 30h10v1h-10zM824 31h1v1h-1zM824 32h1v1h-1zM824 33h1v1h-1zM824 34h1v1h-1zM149 484h1v1h-1zM154 484h1v1h-1zM149 485h2v1h-2zM153 485h2v1h-2zM150 486h1v1h-1zM153 486h1v1h-1zM148 487h8v1h-8zM148 488h1v1h-1zM155 488h1v1h-1zM148 489h1v1h-1zM155 489h1v1h-1zM148 490h1v1h-1zM155 490h1v1h-1zM148 491h1v1h-1zM155 491h1v1h-1zM148 492h8v1h-8zM150 493h1v1h-1zM153 493h1v1h-1zM150 494h1v1h-1zM153 494h1v1h-1zM150 495h1v1h-1zM153 495h1v1h-1zM149 496h2v1h-2zM153 496h1v1h-1zM156 496h1v1h-1zM149 497h1v1h-1zM153 497h1v1h-1zM156 497h1v1h-1zM147 498h2v1h-2zM153 498h4v1h-4zM177 491h10v1h-10zM192 483h1v1h-1zM192 484h1v1h-1zM192 485h1v1h-1zM192 486h2v1h-2zM193 487h1v1h-1zM188 488h10v1h-10zM191 491h1v1h-1zM194 491h1v1h-1zM190 492h2v1h-2zM194 492h2v1h-2zM190 493h1v1h-1zM195 493h1v1h-1zM190 494h1v1h-1zM195 494h2v1h-2zM189 495h1v1h-1zM196 495h1v1h-1zM189 496h1v1h-1zM196 496h1v1h-1zM188 497h2v1h-2zM196 497h2v1h-2zM188 498h1v1h-1zM197 498h1v1h-1zM200 484h1v1h-1zM205 484h1v1h-1zM200 485h3v1h-3zM205 485h1v1h-1zM199 486h2v1h-2zM202 486h1v1h-1zM204 486h5v1h-5zM199 487h1v1h-1zM202 487h1v1h-1zM204 487h1v1h-1zM207 487h1v1h-1zM199 488h7v1h-7zM207 488h1v1h-1zM203 489h1v1h-1zM205 489h1v1h-1zM207 489h1v1h-1zM203 490h1v1h-1zM205 490h3v1h-3zM199 491h5v1h-5zM206 491h1v1h-1zM203 492h1v1h-1zM205 492h2v1h-2zM203 493h1v1h-1zM205 493h1v1h-1zM207 493h1v1h-1zM199 494h7v1h-7zM207 494h2v1h-2zM200 495h1v1h-1zM200 496h1v1h-1zM202 496h1v1h-1zM204 496h2v1h-2zM207 496h1v1h-1zM199 497h2v1h-2zM202 497h1v1h-1zM205 497h1v1h-1zM207 497h2v1h-2zM199 498h1v1h-1zM202 498h1v1h-1zM205 498h1v1h-1zM208 498h1v1h-1zM426 482h1v1h-1zM431 482h1v1h-1zM426 483h1v1h-1zM431 483h1v1h-1zM426 484h1v1h-1zM428 484h7v1h-7zM426 485h1v1h-1zM428 485h1v1h-1zM431 485h1v1h-1zM434 485h1v1h-1zM425 486h4v1h-4zM431 486h1v1h-1zM434 486h1v1h-1zM426 487h1v1h-1zM428 487h1v1h-1zM431 487h1v1h-1zM434 487h1v1h-1zM426 488h1v1h-1zM428 488h7v1h-7zM426 489h1v1h-1zM428 489h1v1h-1zM431 489h1v1h-1zM434 489h1v1h-1zM426 490h1v1h-1zM428 490h1v1h-1zM431 490h1v1h-1zM434 490h1v1h-1zM426 491h1v1h-1zM428 491h1v1h-1zM431 491h1v1h-1zM434 491h1v1h-1zM426 492h9v1h-9zM425 493h2v1h-2zM429 493h1v1h-1zM431 493h1v1h-1zM431 494h1v1h-1zM431 495h1v1h-1zM431 496h1v1h-1zM440 482h1v1h-1zM440 483h1v1h-1zM440 484h1v1h-1zM436 485h1v1h-1zM440 485h1v1h-1zM444 485h1v1h-1zM436 486h1v1h-1zM440 486h1v1h-1zM444 486h1v1h-1zM436 487h1v1h-1zM440 487h1v1h-1zM444 487h1v1h-1zM436 488h1v1h-1zM440 488h1v1h-1zM444 488h1v1h-1zM436 489h1v1h-1zM440 489h1v1h-1zM444 489h1v1h-1zM436 490h1v1h-1zM440 490h1v1h-1zM444 490h1v1h-1zM436 491h1v1h-1zM440 491h1v1h-1zM444 491h1v1h-1zM436 492h1v1h-1zM440 492h1v1h-1zM444 492h1v1h-1zM436 493h1v1h-1zM440 493h1v1h-1zM444 493h1v1h-1zM436 494h1v1h-1zM440 494h1v1h-1zM444 494h1v1h-1zM436 495h9v1h-9zM444 496h1v1h-1zM465 483h9v1h-9zM468 484h1v1h-1zM468 485h1v1h-1zM468 486h1v1h-1zM468 487h1v1h-1zM466 488h6v1h-6zM468 489h1v1h-1zM472 489h1v1h-1zM468 490h1v1h-1zM471 490h2v1h-2zM468 491h1v1h-1zM471 491h1v1h-1zM467 492h1v1h-1zM471 492h1v1h-1zM467 493h1v1h-1zM471 493h1v1h-1zM467 494h1v1h-1zM471 494h1v1h-1zM464 495h11v1h-11zM475 483h9v1h-9zM479 484h1v1h-1zM479 485h1v1h-1zM479 486h1v1h-1zM478 487h2v1h-2zM476 488h7v1h-7zM478 489h1v1h-1zM482 489h1v1h-1zM478 490h1v1h-1zM482 490h1v1h-1zM478 491h1v1h-1zM482 491h1v1h-1zM478 492h1v1h-1zM482 492h1v1h-1zM478 493h1v1h-1zM482 493h1v1h-1zM478 494h1v1h-1zM482 494h1v1h-1zM475 495h10v1h-10zM489 482h1v1h-1zM486 483h7v1h-7zM486 484h1v1h-1zM489 484h1v1h-1zM493 484h1v1h-1zM486 485h1v1h-1zM489 485h1v1h-1zM493 485h1v1h-1zM486 486h8v1h-8zM486 487h1v1h-1zM489 487h1v1h-1zM493 487h1v1h-1zM486 488h1v1h-1zM489 488h1v1h-1zM493 488h1v1h-1zM486 489h1v1h-1zM489 489h1v1h-1zM493 489h1v1h-1zM486 490h7v1h-7zM489 491h2v1h-2zM492 491h1v1h-1zM488 492h1v1h-1zM490 492h2v1h-2zM493 492h1v1h-1zM488 493h1v1h-1zM490 493h4v1h-4zM487 494h1v1h-1zM490 494h5v1h-5zM486 495h2v1h-2zM490 495h1v1h-1zM494 495h1v1h-1zM485 496h2v1h-2zM490 496h5v1h-5zM605 485h1v1h-1zM601 486h10v1h-10zM604 487h1v1h-1zM607 487h1v1h-1zM602 488h1v1h-1zM604 488h4v1h-4zM609 488h1v1h-1zM602 489h1v1h-1zM605 489h2v1h-2zM609 489h1v1h-1zM602 490h1v1h-1zM604 490h4v1h-4zM609 490h1v1h-1zM602 491h1v1h-1zM604 491h1v1h-1zM607 491h1v1h-1zM609 491h1v1h-1zM602 492h8v1h-8zM605 493h1v1h-1zM601 494h9v1h-9zM601 495h1v1h-1zM604 495h2v1h-2zM607 495h1v1h-1zM609 495h1v1h-1zM601 496h1v1h-1zM604 496h1v1h-1zM607 496h1v1h-1zM609 496h1v1h-1zM601 497h1v1h-1zM604 497h6v1h-6zM601 498h1v1h-1zM608 498h2v1h-2zM601 499h1v1h-1zM608 499h2v1h-2zM631 486h9v1h-9zM632 492h7v1h-7zM630 498h10v1h-10zM640 486h9v1h-9zM644 487h1v1h-1zM644 488h1v1h-1zM644 489h1v1h-1zM644 490h1v1h-1zM640 491h10v1h-10zM644 492h2v1h-2zM644 493h2v1h-2zM644 494h2v1h-2zM643 495h1v1h-1zM645 495h2v1h-2zM643 496h1v1h-1zM646 496h1v1h-1zM642 497h1v1h-1zM646 497h2v1h-2zM641 498h2v1h-2zM647 498h2v1h-2zM640 499h2v1h-2zM648 499h2v1h-2zM660 485h1v1h-1zM652 486h9v1h-9zM652 487h1v1h-1zM655 487h1v1h-1zM652 488h1v1h-1zM654 488h2v1h-2zM660 488h1v1h-1zM652 489h1v1h-1zM654 489h6v1h-6zM652 490h3v1h-3zM656 490h1v1h-1zM652 491h1v1h-1zM656 491h1v1h-1zM652 492h9v1h-9zM652 493h1v1h-1zM656 493h1v1h-1zM652 494h1v1h-1zM656 494h3v1h-3zM652 495h1v1h-1zM656 495h1v1h-1zM658 495h1v1h-1zM652 496h1v1h-1zM655 496h1v1h-1zM658 496h2v1h-2zM652 497h4v1h-4zM659 497h2v1h-2zM652 498h1v1h-1zM661 498h1v1h-1zM652 499h9v1h-9zM813 484h9v1h-9zM813 485h1v1h-1zM817 485h2v1h-2zM821 485h1v1h-1zM813 486h1v1h-1zM817 486h2v1h-2zM821 486h1v1h-1zM813 487h4v1h-4zM818 487h4v1h-4zM813 488h1v1h-1zM817 488h2v1h-2zM822 488h1v1h-1zM814 489h9v1h-9zM815 490h1v1h-1zM819 490h1v1h-1zM815 491h1v1h-1zM819 491h1v1h-1zM813 492h9v1h-9zM815 493h1v1h-1zM819 493h1v1h-1zM815 494h1v1h-1zM819 494h1v1h-1zM813 495h10v1h-10zM816 496h1v1h-1zM819 496h1v1h-1zM815 497h2v1h-2zM820 497h2v1h-2zM813 498h2v1h-2zM821 498h2v1h-2zM844 484h1v1h-1zM844 485h1v1h-1zM844 486h1v1h-1zM844 487h1v1h-1zM844 488h1v1h-1zM849 488h2v1h-2zM844 489h6v1h-6zM841 490h5v1h-5zM841 491h1v1h-1zM844 491h1v1h-1zM844 492h1v1h-1zM844 493h1v1h-1zM844 494h1v1h-1zM844 495h1v1h-1zM850 495h1v1h-1zM844 496h1v1h-1zM850 496h1v1h-1zM844 497h1v1h-1zM849 497h1v1h-1zM845 498h5v1h-5zM854 484h1v1h-1zM858 484h2v1h-2zM854 485h1v1h-1zM858 485h1v1h-1zM860 485h1v1h-1zM853 486h2v1h-2zM858 486h1v1h-1zM860 486h1v1h-1zM853 487h1v1h-1zM858 487h1v1h-1zM860 487h1v1h-1zM853 488h1v1h-1zM858 488h1v1h-1zM852 489h2v1h-2zM855 489h7v1h-7zM852 490h2v1h-2zM858 490h1v1h-1zM852 491h2v1h-2zM857 491h2v1h-2zM853 492h1v1h-1zM857 492h2v1h-2zM853 493h1v1h-1zM857 493h3v1h-3zM853 494h1v1h-1zM857 494h1v1h-1zM859 494h1v1h-1zM853 495h1v1h-1zM856 495h2v1h-2zM859 495h1v1h-1zM853 496h1v1h-1zM856 496h1v1h-1zM859 496h2v1h-2zM853 497h1v1h-1zM855 497h2v1h-2zM860 497h1v1h-1zM853 498h1v1h-1zM855 498h1v1h-1zM861 498h1v1h-1zM865 484h1v1h-1zM868 484h1v1h-1zM864 485h2v1h-2zM868 485h1v1h-1zM864 486h1v1h-1zM869 486h1v1h-1zM864 487h1v1h-1zM866 487h6v1h-6zM864 488h1v1h-1zM863 489h2v1h-2zM867 489h1v1h-1zM870 489h1v1h-1zM862 490h3v1h-3zM867 490h1v1h-1zM870 490h1v1h-1zM862 491h1v1h-1zM864 491h1v1h-1zM867 491h1v1h-1zM870 491h1v1h-1zM864 492h1v1h-1zM867 492h1v1h-1zM870 492h1v1h-1zM864 493h1v1h-1zM867 493h1v1h-1zM870 493h1v1h-1zM864 494h1v1h-1zM867 494h1v1h-1zM870 494h1v1h-1zM864 495h1v1h-1zM867 495h1v1h-1zM869 495h2v1h-2zM864 496h1v1h-1zM867 496h1v1h-1zM869 496h1v1h-1zM864 497h1v1h-1zM869 497h1v1h-1zM872 497h1v1h-1zM864 498h8v1h-8zM118 237h1v1h-1zM118 238h1v1h-1zM118 239h1v1h-1zM114 240h8v1h-8zM118 241h1v1h-1zM121 241h1v1h-1zM118 242h1v1h-1zM121 242h2v1h-2zM115 243h1v1h-1zM117 243h1v1h-1zM121 243h2v1h-2zM115 244h1v1h-1zM117 244h1v1h-1zM121 244h2v1h-2zM115 245h1v1h-1zM117 245h1v1h-1zM121 245h1v1h-1zM123 245h1v1h-1zM114 246h1v1h-1zM117 246h1v1h-1zM121 246h1v1h-1zM123 246h1v1h-1zM114 247h1v1h-1zM116 247h2v1h-2zM121 247h1v1h-1zM123 247h1v1h-1zM116 248h1v1h-1zM120 248h2v1h-2zM116 249h1v1h-1zM120 249h1v1h-1zM115 250h1v1h-1zM120 250h1v1h-1zM114 251h2v1h-2zM118 251h3v1h-3zM127 237h1v1h-1zM130 237h1v1h-1zM127 238h1v1h-1zM130 238h2v1h-2zM126 239h2v1h-2zM131 239h1v1h-1zM126 240h1v1h-1zM131 240h2v1h-2zM125 241h2v1h-2zM132 241h1v1h-1zM125 242h1v1h-1zM128 242h2v1h-2zM132 242h2v1h-2zM124 243h2v1h-2zM128 243h1v1h-1zM133 243h1v1h-1zM124 244h1v1h-1zM128 244h1v1h-1zM127 245h2v1h-2zM127 246h1v1h-1zM130 246h2v1h-2zM126 247h2v1h-2zM131 247h1v1h-1zM126 248h1v1h-1zM131 248h2v1h-2zM126 249h1v1h-1zM129 249h4v1h-4zM125 250h5v1h-5zM132 250h2v1h-2zM133 251h1v1h-1zM144 237h1v1h-1zM135 238h9v1h-9zM135 239h1v1h-1zM142 239h1v1h-1zM135 240h1v1h-1zM137 240h1v1h-1zM142 240h1v1h-1zM135 241h1v1h-1zM137 241h2v1h-2zM141 241h1v1h-1zM135 242h1v1h-1zM138 242h2v1h-2zM141 242h1v1h-1zM135 243h1v1h-1zM139 243h3v1h-3zM135 244h1v1h-1zM139 244h2v1h-2zM135 245h1v1h-1zM139 245h3v1h-3zM135 246h1v1h-1zM138 246h2v1h-2zM141 246h1v1h-1zM135 247h1v1h-1zM138 247h1v1h-1zM141 247h2v1h-2zM135 248h1v1h-1zM137 248h2v1h-2zM142 248h1v1h-1zM135 249h1v1h-1zM142 249h1v1h-1zM135 250h1v1h-1zM135 251h10v1h-10zM428 236h1v1h-1zM428 237h1v1h-1zM428 238h1v1h-1zM424 239h8v1h-8zM428 240h1v1h-1zM431 240h1v1h-1zM426 241h1v1h-1zM428 241h1v1h-1zM431 241h2v1h-2zM425 242h1v1h-1zM428 242h1v1h-1zM431 242h2v1h-2zM425 243h1v1h-1zM427 243h1v1h-1zM431 243h3v1h-3zM425 244h1v1h-1zM427 244h1v1h-1zM431 244h1v1h-1zM433 244h1v1h-1zM424 245h1v1h-1zM427 245h1v1h-1zM431 245h1v1h-1zM433 245h1v1h-1zM424 246h1v1h-1zM426 246h2v1h-2zM431 246h1v1h-1zM433 246h1v1h-1zM426 247h1v1h-1zM431 247h1v1h-1zM426 248h1v1h-1zM431 248h1v1h-1zM425 249h1v1h-1zM430 249h1v1h-1zM424 250h2v1h-2zM428 250h3v1h-3zM438 236h1v1h-1zM441 236h1v1h-1zM437 237h2v1h-2zM441 237h1v1h-1zM437 238h1v1h-1zM441 238h2v1h-2zM437 239h1v1h-1zM442 239h1v1h-1zM436 240h1v1h-1zM442 240h2v1h-2zM435 241h2v1h-2zM439 241h1v1h-1zM443 241h1v1h-1zM435 242h1v1h-1zM439 242h1v1h-1zM443 242h2v1h-2zM435 243h1v1h-1zM438 243h2v1h-2zM438 244h1v1h-1zM437 245h2v1h-2zM441 245h1v1h-1zM437 246h1v1h-1zM442 246h1v1h-1zM437 247h1v1h-1zM442 247h1v1h-1zM436 248h1v1h-1zM440 248h4v1h-4zM436 249h4v1h-4zM443 249h1v1h-1zM443 250h2v1h-2zM454 236h1v1h-1zM446 237h9v1h-9zM446 238h1v1h-1zM453 238h1v1h-1zM446 239h3v1h-3zM452 239h2v1h-2zM446 240h1v1h-1zM448 240h1v1h-1zM452 240h1v1h-1zM446 241h1v1h-1zM449 241h1v1h-1zM451 241h2v1h-2zM446 242h1v1h-1zM449 242h3v1h-3zM446 243h1v1h-1zM450 243h2v1h-2zM446 244h1v1h-1zM450 244h2v1h-2zM446 245h1v1h-1zM449 245h1v1h-1zM451 245h2v1h-2zM446 246h1v1h-1zM448 246h2v1h-2zM452 246h1v1h-1zM446 247h3v1h-3zM453 247h1v1h-1zM446 248h2v1h-2zM453 248h1v1h-1zM446 249h1v1h-1zM446 250h10v1h-10zM672 193h1v1h-1zM671 194h2v1h-2zM670 195h2v1h-2zM673 195h1v1h-1zM669 196h2v1h-2zM673 196h2v1h-2zM668 197h2v1h-2zM674 197h2v1h-2zM667 198h8v1h-8zM676 198h1v1h-1zM667 201h10v1h-10zM670 202h2v1h-2zM670 203h1v1h-1zM673 203h1v1h-1zM669 204h2v1h-2zM674 204h1v1h-1zM669 205h1v1h-1zM674 205h2v1h-2zM669 206h1v1h-1zM671 206h5v1h-5zM668 207h3v1h-3zM675 207h2v1h-2zM682 192h1v1h-1zM682 193h1v1h-1zM678 194h10v1h-10zM678 195h1v1h-1zM681 195h1v1h-1zM687 195h1v1h-1zM678 196h1v1h-1zM681 196h1v1h-1zM687 196h1v1h-1zM680 197h6v1h-6zM679 198h3v1h-3zM684 198h1v1h-1zM678 199h2v1h-2zM681 199h4v1h-4zM682 200h2v1h-2zM681 201h4v1h-4zM679 202h2v1h-2zM685 202h3v1h-3zM678 203h1v1h-1zM680 203h6v1h-6zM680 204h1v1h-1zM685 204h1v1h-1zM680 205h1v1h-1zM685 205h1v1h-1zM680 206h1v1h-1zM685 206h1v1h-1zM680 207h6v1h-6zM697 193h1v1h-1zM689 194h9v1h-9zM689 195h1v1h-1zM696 195h1v1h-1zM689 196h3v1h-3zM695 196h2v1h-2zM689 197h1v1h-1zM691 197h1v1h-1zM695 197h1v1h-1zM689 198h1v1h-1zM692 198h1v1h-1zM694 198h2v1h-2zM689 199h1v1h-1zM692 199h3v1h-3zM689 200h1v1h-1zM693 200h2v1h-2zM689 201h1v1h-1zM693 201h2v1h-2zM689 202h1v1h-1zM692 202h1v1h-1zM694 202h2v1h-2zM689 203h1v1h-1zM691 203h2v1h-2zM695 203h1v1h-1zM689 204h3v1h-3zM696 204h1v1h-1zM689 205h2v1h-2zM696 205h1v1h-1zM689 206h1v1h-1zM689 207h10v1h-10zM736 125h9v1h-9zM740 126h1v1h-1zM744 126h1v1h-1zM740 127h1v1h-1zM744 127h1v1h-1zM740 128h1v1h-1zM744 128h1v1h-1zM740 129h1v1h-1zM744 129h1v1h-1zM740 130h1v1h-1zM744 130h1v1h-1zM740 131h1v1h-1zM744 131h1v1h-1zM740 132h1v1h-1zM744 132h1v1h-1zM740 133h1v1h-1zM742 133h3v1h-3zM740 134h1v1h-1zM740 135h1v1h-1zM740 136h1v1h-1zM740 137h1v1h-1zM745 137h1v1h-1zM736 138h10v1h-10zM748 124h1v1h-1zM751 124h1v1h-1zM748 125h1v1h-1zM751 125h1v1h-1zM748 126h1v1h-1zM751 126h1v1h-1zM747 127h9v1h-9zM747 128h1v1h-1zM751 128h1v1h-1zM747 129h1v1h-1zM751 129h1v1h-1zM746 130h1v1h-1zM751 130h1v1h-1zM751 131h1v1h-1zM747 132h8v1h-8zM751 133h1v1h-1zM751 134h1v1h-1zM751 135h1v1h-1zM751 136h1v1h-1zM751 137h1v1h-1zM746 138h10v1h-10zM757 124h2v1h-2zM758 125h1v1h-1zM760 125h6v1h-6zM758 126h1v1h-1zM765 126h1v1h-1zM757 127h1v1h-1zM765 127h1v1h-1zM757 128h1v1h-1zM765 128h1v1h-1zM757 129h1v1h-1zM759 129h5v1h-5zM765 129h1v1h-1zM757 130h1v1h-1zM759 130h1v1h-1zM763 130h1v1h-1zM765 130h1v1h-1zM757 131h1v1h-1zM759 131h1v1h-1zM763 131h1v1h-1zM765 131h1v1h-1zM757 132h1v1h-1zM759 132h5v1h-5zM765 132h1v1h-1zM757 133h1v1h-1zM759 133h1v1h-1zM763 133h1v1h-1zM765 133h1v1h-1zM757 134h1v1h-1zM759 134h1v1h-1zM763 134h1v1h-1zM765 134h1v1h-1zM757 135h1v1h-1zM759 135h5v1h-5zM765 135h1v1h-1zM757 136h1v1h-1zM765 136h1v1h-1zM757 137h1v1h-1zM765 137h1v1h-1zM757 138h1v1h-1zM764 138h2v1h-2zM797 226h1v1h-1zM792 227h2v1h-2zM796 227h2v1h-2zM793 228h1v1h-1zM796 228h1v1h-1zM793 229h1v1h-1zM796 229h1v1h-1zM791 230h7v1h-7zM791 231h1v1h-1zM797 231h1v1h-1zM791 232h1v1h-1zM797 232h1v1h-1zM791 233h1v1h-1zM797 233h1v1h-1zM791 234h1v1h-1zM797 234h1v1h-1zM792 235h6v1h-6zM794 236h1v1h-1zM791 237h2v1h-2zM794 237h2v1h-2zM797 237h2v1h-2zM790 238h3v1h-3zM795 238h1v1h-1zM798 238h1v1h-1zM790 239h1v1h-1zM792 239h1v1h-1zM798 239h2v1h-2zM790 240h1v1h-1zM792 240h1v1h-1zM797 240h1v1h-1zM799 240h1v1h-1zM792 241h6v1h-6zM802 227h1v1h-1zM802 228h1v1h-1zM804 228h5v1h-5zM801 229h1v1h-1zM807 229h2v1h-2zM801 230h1v1h-1zM803 230h1v1h-1zM807 230h1v1h-1zM801 231h1v1h-1zM803 231h1v1h-1zM806 231h2v1h-2zM800 232h4v1h-4zM805 232h4v1h-4zM800 233h3v1h-3zM804 233h2v1h-2zM808 233h2v1h-2zM801 234h3v1h-3zM801 235h1v1h-1zM804 235h6v1h-6zM801 236h3v1h-3zM806 236h1v1h-1zM800 237h1v1h-1zM806 237h1v1h-1zM806 238h1v1h-1zM802 239h2v1h-2zM806 239h1v1h-1zM800 240h2v1h-2zM806 240h1v1h-1zM803 241h7v1h-7zM814 227h6v1h-6zM810 228h5v1h-5zM816 228h1v1h-1zM819 228h1v1h-1zM812 229h1v1h-1zM814 229h1v1h-1zM816 229h1v1h-1zM819 229h1v1h-1zM812 230h1v1h-1zM814 230h1v1h-1zM816 230h1v1h-1zM819 230h1v1h-1zM812 231h1v1h-1zM814 231h6v1h-6zM812 232h1v1h-1zM814 232h1v1h-1zM816 232h1v1h-1zM819 232h1v1h-1zM810 233h5v1h-5zM816 233h1v1h-1zM819 233h1v1h-1zM812 234h1v1h-1zM814 234h6v1h-6zM812 235h1v1h-1zM816 235h1v1h-1zM812 236h1v1h-1zM816 236h1v1h-1zM812 237h1v1h-1zM814 237h6v1h-6zM812 238h2v1h-2zM816 238h1v1h-1zM810 239h3v1h-3zM816 239h1v1h-1zM816 240h1v1h-1zM813 241h7v1h-7zM825 226h1v1h-1zM825 227h1v1h-1zM821 228h9v1h-9zM821 229h1v1h-1zM829 229h1v1h-1zM821 230h1v1h-1zM829 230h1v1h-1zM822 231h7v1h-7zM824 232h1v1h-1zM827 232h1v1h-1zM823 233h1v1h-1zM827 233h1v1h-1zM823 234h6v1h-6zM822 235h1v1h-1zM825 235h1v1h-1zM828 235h1v1h-1zM825 236h1v1h-1zM821 237h9v1h-9zM825 238h1v1h-1zM825 239h1v1h-1zM825 240h1v1h-1zM821 241h10v1h-10zM654 371h4v1h-4zM662 371h1v1h-1zM654 372h1v1h-1zM657 372h1v1h-1zM662 372h1v1h-1zM654 373h1v1h-1zM656 373h2v1h-2zM662 373h1v1h-1zM654 374h1v1h-1zM656 374h8v1h-8zM654 375h1v1h-1zM656 375h2v1h-2zM662 375h1v1h-1zM654 376h1v1h-1zM656 376h2v1h-2zM661 376h2v1h-2zM654 377h1v1h-1zM656 377h2v1h-2zM661 377h2v1h-2zM654 378h1v1h-1zM656 378h2v1h-2zM660 378h3v1h-3zM654 379h1v1h-1zM656 379h2v1h-2zM660 379h1v1h-1zM662 379h1v1h-1zM654 380h1v1h-1zM656 380h2v1h-2zM660 380h1v1h-1zM662 380h1v1h-1zM654 381h1v1h-1zM656 381h2v1h-2zM659 381h1v1h-1zM662 381h1v1h-1zM655 382h2v1h-2zM658 382h2v1h-2zM662 382h1v1h-1zM655 383h4v1h-4zM662 383h1v1h-1zM654 384h2v1h-2zM657 384h1v1h-1zM662 384h1v1h-1zM654 385h1v1h-1zM657 385h1v1h-1zM660 385h3v1h-3zM667 371h2v1h-2zM667 372h6v1h-6zM666 373h2v1h-2zM672 373h1v1h-1zM665 374h3v1h-3zM671 374h1v1h-1zM665 375h1v1h-1zM667 375h2v1h-2zM670 375h2v1h-2zM668 376h3v1h-3zM665 377h4v1h-4zM670 377h5v1h-5zM664 378h2v1h-2zM668 378h1v1h-1zM668 379h1v1h-1zM665 380h8v1h-8zM668 381h1v1h-1zM672 381h1v1h-1zM668 382h1v1h-1zM672 382h1v1h-1zM667 383h1v1h-1zM672 383h1v1h-1zM666 384h2v1h-2zM672 384h1v1h-1zM664 385h3v1h-3zM670 385h3v1h-3zM679 370h1v1h-1zM679 371h1v1h-1zM675 372h10v1h-10zM675 373h1v1h-1zM684 373h1v1h-1zM675 374h1v1h-1zM684 374h1v1h-1zM676 375h8v1h-8zM678 376h1v1h-1zM681 376h1v1h-1zM677 377h2v1h-2zM681 377h2v1h-2zM677 378h6v1h-6zM676 379h2v1h-2zM679 379h1v1h-1zM683 379h1v1h-1zM679 380h1v1h-1zM676 381h8v1h-8zM679 382h1v1h-1zM679 383h1v1h-1zM679 384h1v1h-1zM675 385h10v1h-10zM747 402h1v1h-1zM746 403h2v1h-2zM750 403h1v1h-1zM746 404h1v1h-1zM750 404h1v1h-1zM746 405h1v1h-1zM750 405h1v1h-1zM745 406h2v1h-2zM750 406h1v1h-1zM745 407h1v1h-1zM747 407h8v1h-8zM744 408h2v1h-2zM750 408h2v1h-2zM744 409h2v1h-2zM749 409h3v1h-3zM745 410h1v1h-1zM749 410h3v1h-3zM745 411h1v1h-1zM748 411h3v1h-3zM752 411h1v1h-1zM745 412h1v1h-1zM748 412h1v1h-1zM750 412h1v1h-1zM752 412h1v1h-1zM745 413h1v1h-1zM747 413h2v1h-2zM750 413h1v1h-1zM752 413h2v1h-2zM745 414h1v1h-1zM747 414h1v1h-1zM750 414h1v1h-1zM753 414h1v1h-1zM745 415h1v1h-1zM747 415h1v1h-1zM750 415h1v1h-1zM754 415h1v1h-1zM745 416h1v1h-1zM750 416h1v1h-1zM745 417h1v1h-1zM750 417h1v1h-1zM760 402h1v1h-1zM759 403h2v1h-2zM756 404h8v1h-8zM756 405h1v1h-1zM763 405h1v1h-1zM756 406h1v1h-1zM763 406h1v1h-1zM756 407h8v1h-8zM756 408h1v1h-1zM763 408h1v1h-1zM756 409h8v1h-8zM756 410h1v1h-1zM763 410h1v1h-1zM756 411h1v1h-1zM763 411h1v1h-1zM757 412h7v1h-7zM756 413h1v1h-1zM759 413h2v1h-2zM763 413h1v1h-1zM756 414h2v1h-2zM760 414h1v1h-1zM763 414h2v1h-2zM755 415h3v1h-3zM761 415h2v1h-2zM764 415h1v1h-1zM755 416h1v1h-1zM757 416h1v1h-1zM762 416h1v1h-1zM764 416h1v1h-1zM755 417h1v1h-1zM757 417h6v1h-6zM771 402h1v1h-1zM770 403h2v1h-2zM766 404h10v1h-10zM766 405h1v1h-1zM775 405h1v1h-1zM766 406h1v1h-1zM775 406h1v1h-1zM767 407h8v1h-8zM769 408h2v1h-2zM772 408h2v1h-2zM768 409h2v1h-2zM773 409h1v1h-1zM768 410h7v1h-7zM768 411h1v1h-1zM771 411h1v1h-1zM774 411h1v1h-1zM771 412h1v1h-1zM767 413h8v1h-8zM771 414h1v1h-1zM771 415h1v1h-1zM771 416h1v1h-1zM766 417h10v1h-10z"/>
</svg>
</body></html>
